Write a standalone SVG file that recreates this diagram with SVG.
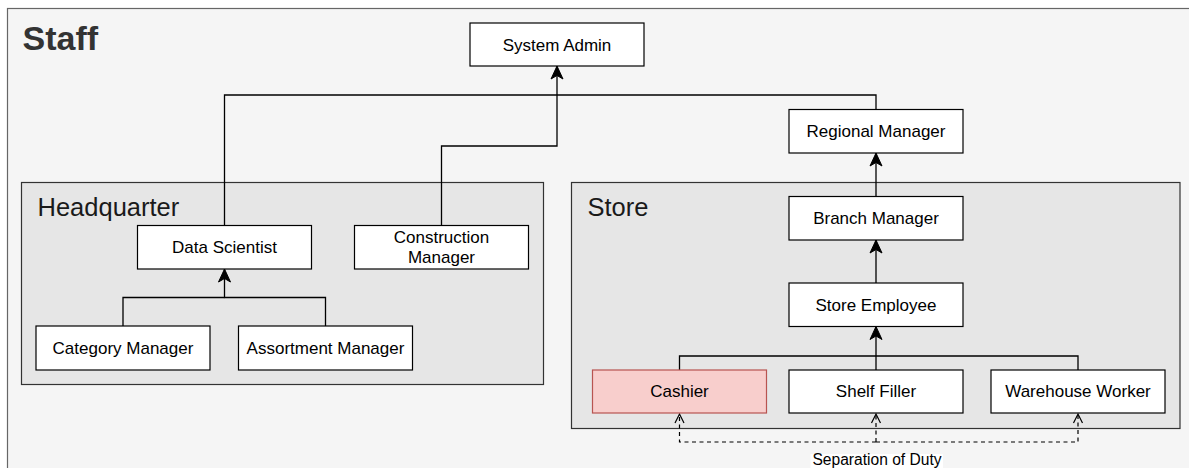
<svg xmlns="http://www.w3.org/2000/svg" width="1189" height="468" viewBox="0 0 1189 468">
<style>
.box{fill:#ffffff;stroke:#000000;stroke-width:1.2}
.red{fill:#f8cecc;stroke:#b85450;stroke-width:1.2}
.grp{fill:#e6e6e6;stroke:#333333;stroke-width:1.2}
.t{font-family:"Liberation Sans",Arial,sans-serif;font-size:17px;fill:#000000;text-anchor:middle}
.gt{font-family:"Liberation Sans",Arial,sans-serif;font-size:25.5px;fill:#1a1a1a}
.edge{fill:none;stroke:#000000;stroke-width:1.3}
.dash{fill:none;stroke:#000000;stroke-width:1.2;stroke-dasharray:4 3.5}
</style>
<defs>
<marker id="classic" markerUnits="userSpaceOnUse" markerWidth="16" markerHeight="16" viewBox="-14 -8 16 16" refX="0" refY="0" orient="auto">
<path d="M0,0 L-13,-6 L-9.5,0 L-13,6 Z" fill="#000000" stroke="#000000" stroke-width="1"/>
</marker>
<marker id="open" markerUnits="userSpaceOnUse" markerWidth="14" markerHeight="14" viewBox="-12 -7 14 14" refX="0" refY="0" orient="auto">
<path d="M-9,-4.5 L0,0 L-9,4.5" fill="none" stroke="#000000" stroke-width="1.2"/>
</marker>
</defs>
<g id="staff">
<rect x="7.5" y="8.5" width="1190" height="470" fill="#f5f5f5" stroke="#666666" stroke-width="1.2"/>
<text x="22.5" y="50" font-family="'Liberation Sans',Arial,sans-serif" font-size="34" font-weight="bold" fill="#333333">Staff</text>
</g>
<g id="headquarter">
<rect class="grp" x="21.5" y="182.5" width="522" height="202"/>
<text class="gt" x="37.5" y="216">Headquarter</text>
</g>
<g id="store">
<rect class="grp" x="571.5" y="182.5" width="608.5" height="246"/>
<text class="gt" x="587.5" y="215.5">Store</text>
</g>
<g id="connectors">
<path class="edge" d="M224.5,225.5 V95 H557"/>
<path class="edge" d="M876,109.5 V95 H557"/>
<path class="edge" d="M441.5,225.5 V146 H557 V66" marker-end="url(#classic)"/>
<path class="edge" d="M123,326 V297.5 H224.5"/>
<path class="edge" d="M325.5,326 V297.5 H224.5 V269" marker-end="url(#classic)"/>
<path class="edge" d="M876,196.5 V153" marker-end="url(#classic)"/>
<path class="edge" d="M876,283 V240" marker-end="url(#classic)"/>
<path class="edge" d="M679.5,370 V356 H876"/>
<path class="edge" d="M1078,370 V356 H876"/>
<path class="edge" d="M876,370 V326.5" marker-end="url(#classic)"/>
<path class="dash" d="M876,442 H679.5 V414" marker-end="url(#open)"/>
<path class="dash" d="M876,442 H1078 V414" marker-end="url(#open)"/>
<path class="dash" d="M876,442 V414" marker-end="url(#open)"/>
<rect x="810.5" y="454" width="132.5" height="16" fill="#ffffff"/>
<text x="877" y="465" font-family="'Liberation Sans',Arial,sans-serif" font-size="15.6" fill="#000000" text-anchor="middle">Separation of Duty</text>
</g>
<g id="system-admin">
<rect class="box" x="470" y="23" width="174" height="43"/>
<text class="t" x="557" y="50.5">System Admin</text>
</g>
<g id="regional-manager">
<rect class="box" x="789" y="109.5" width="174" height="43.5"/>
<text class="t" x="876" y="137">Regional Manager</text>
</g>
<g id="data-scientist">
<rect class="box" x="137.5" y="225.5" width="174" height="43.5"/>
<text class="t" x="224.5" y="252.5">Data Scientist</text>
</g>
<g id="construction-manager">
<rect class="box" x="354.5" y="225.5" width="174" height="43.5"/>
<text class="t" x="441.5" y="242.5">Construction</text>
<text class="t" x="441.5" y="263">Manager</text>
</g>
<g id="category-manager">
<rect class="box" x="36" y="326" width="174" height="44"/>
<text class="t" x="123" y="354">Category Manager</text>
</g>
<g id="assortment-manager">
<rect class="box" x="238.5" y="326" width="174" height="44"/>
<text class="t" x="325.5" y="354">Assortment Manager</text>
</g>
<g id="branch-manager">
<rect class="box" x="789" y="196.5" width="174" height="43.5"/>
<text class="t" x="876" y="224">Branch Manager</text>
</g>
<g id="store-employee">
<rect class="box" x="789" y="283" width="174" height="43.5"/>
<text class="t" x="876" y="310.5">Store Employee</text>
</g>
<g id="cashier">
<rect class="red" x="592.5" y="370" width="174" height="43"/>
<text class="t" x="679.5" y="397">Cashier</text>
</g>
<g id="shelf-filler">
<rect class="box" x="789" y="370" width="174" height="43"/>
<text class="t" x="876" y="397">Shelf Filler</text>
</g>
<g id="warehouse-worker">
<rect class="box" x="991" y="370" width="174" height="43"/>
<text class="t" x="1078" y="397">Warehouse Worker</text>
</g>
</svg>
